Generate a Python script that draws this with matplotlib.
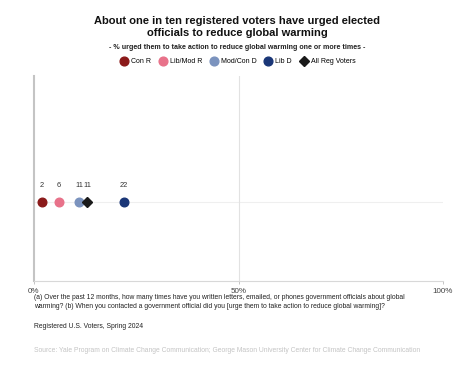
"""Dot chart: registered voters urging officials to reduce global warming."""

import matplotlib

matplotlib.use("Agg")
import matplotlib.pyplot as plt
import matplotlib.transforms as mtransforms
from matplotlib.lines import Line2D

groups = ["Con R", "Lib/Mod R", "Mod/Con D", "Lib D", "All Reg Voters"]
values = [2, 6, 11, 22, 11]
colors = ["#8b1a1a", "#e8728a", "#7b93be", "#1a3677", "#1a1a1a"]
markers = ["o", "o", "o", "o", "D"]
x_ticks = [0, 50, 100]
x_tick_labels = ["0%", "50%", "100%"]

title = "About one in ten registered voters have urged elected\nofficials to reduce global warming"
subtitle = "- % urged them to take action to reduce global warming one or more times -"
note = ("(a) Over the past 12 months, how many times have you written letters, emailed, or phones government officials about global\n"
        "warming? (b) When you contacted a government official did you [urge them to take action to reduce global warming]?")
sample = "Registered U.S. Voters, Spring 2024"
source = "Source: Yale Program on Climate Change Communication; George Mason University Center for Climate Change Communication"

plt.rcParams["font.family"] = ["Liberation Sans", "DejaVu Sans"]

fig = plt.figure(figsize=(4.74, 3.70), dpi=100)
ax = fig.add_axes([34 / 474, 1 - 281 / 370, 409 / 474, 205 / 370])

ax.set_xlim(0, 100)
ax.set_ylim(0, 1)
row_y = 0.385
ax.axhline(row_y, color="#efefef", lw=0.8, zorder=1)
ax.axvline(50, color="#e2e2e2", lw=0.8, zorder=1)

for g, v, c, m in zip(groups, values, colors, markers):
    tr = ax.transData
    if m == "D":
        # overall diamond is dodged right so it doesn't hide Mod/Con D
        tr = ax.transData + mtransforms.ScaledTranslation(0.085, 0, fig.dpi_scale_trans)
    size = 5.2 if m == "D" else 6.2
    ax.plot([v], [row_y], marker=m, ms=size, color=c, mec=c, ls="none",
            transform=tr, zorder=3)
    ax.text(v, row_y + 0.062, f"{v}", ha="center", va="bottom", fontsize=5.4,
            color="#333333", transform=tr)

for side in ["top", "right"]:
    ax.spines[side].set_visible(False)
ax.spines["left"].set_color("#c4c4c4")
ax.spines["left"].set_linewidth(1.5)
ax.spines["bottom"].set_color("#d8d8d8")
ax.spines["bottom"].set_linewidth(0.8)
ax.set_yticks([])
ax.set_xticks(x_ticks)
ax.set_xticklabels(x_tick_labels, fontsize=5.8, color="#444444")
ax.tick_params(axis="x", length=2, width=0.6, color="#bbbbbb", pad=3)

fig.text(0.5, 1 - 27 / 370, title, ha="center", va="center", fontsize=8.0,
         fontweight="bold", color="#111111", linespacing=1.2)
fig.text(0.5, 1 - 47.5 / 370, subtitle, ha="center", va="center", fontsize=5.1,
         fontweight="bold", color="#222222")

handles = [Line2D([], [], marker=m, ls="none", color=c, mec=c, ms=6.3 if m == "o" else 5)
           for c, m in zip(colors, markers)]
fig.legend(handles, groups, loc="center", bbox_to_anchor=(0.5, 1 - 61.5 / 370), ncol=5,
           frameon=False, fontsize=5.0, handletextpad=0.2, columnspacing=0.9,
           borderpad=0, handlelength=1.6)

fig.text(34 / 474, 1 - 302 / 370, note, ha="left", va="center", fontsize=4.9,
         color="#222222", linespacing=1.3)
fig.text(34 / 474, 1 - 327 / 370, sample, ha="left", va="center", fontsize=4.9,
         color="#222222")
fig.text(34 / 474, 1 - 350 / 370, source, ha="left", va="center", fontsize=4.9,
         color="#c4c4c4")

fig.savefig("out.png", dpi=100)
